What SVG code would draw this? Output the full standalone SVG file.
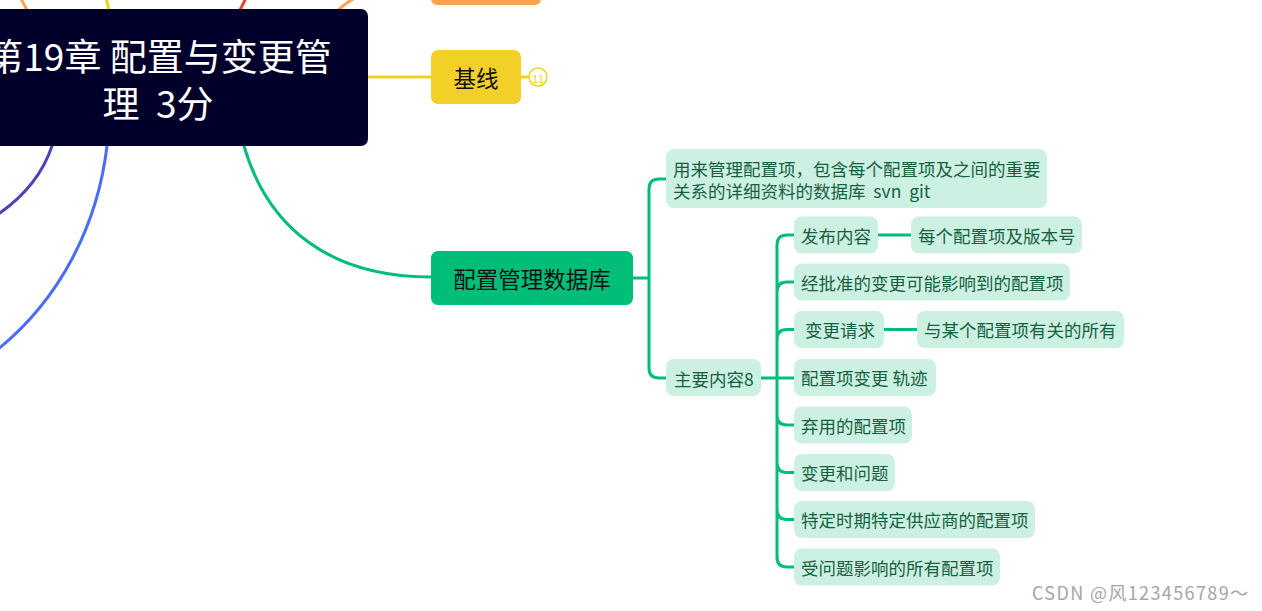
<svg xmlns="http://www.w3.org/2000/svg" width="1262" height="611" viewBox="0 0 1262 611">
<style>
text{font-family:"Noto Sans CJK SC","Noto Sans",sans-serif;dominant-baseline:central;white-space:pre}
.cw{fill:#ffffff;font-size:37px;text-anchor:middle}
.main{font-size:22.5px;fill:#111;text-anchor:middle}
.sub{fill:#ccf1e3}
.st{font-size:17.5px;fill:#17603f}
.ln{fill:none;stroke-width:3;stroke-linecap:round}
.g{stroke:#00bd78}
</style>
<rect width="1262" height="611" fill="#ffffff"/>
<g id="connectors">
<path class="ln" stroke="#f7a350" d="M28 12 Q24 4 18 -6"/>
<path class="ln" stroke="#f2d027" d="M109 12 Q108 4 105 -6"/>
<path class="ln" stroke="#e8413a" d="M239 12 Q243 4 248 -6"/>
<path class="ln" stroke="#f7a350" d="M336 12 Q346 2 362 -6"/>
<path class="ln" stroke="#f2d027" d="M368 77 H431"/>
<path class="ln" stroke="#f2d027" d="M521 77 H529"/>
<path class="ln" stroke="#4b43b8" d="M52 146 C42 176 20 200 -6 217"/>
<path class="ln" stroke="#4a6cf7" d="M107 146 C98 222 62 300 -8 354"/>
<path class="ln g" d="M244 146 C268 228 330 277 431 277"/>
<path class="ln g" d="M633 278 H649 M666 179 H659 Q649 179 649 189 V368 Q649 378 659 378 H666"/>
<path class="ln g" d="M761 378 H794 M878 235 H911 M884 329.5 H917"/>
<path class="ln g" d="M794 235 H787 Q777 235 777 245 V557 Q777 567 787 567 H794 M794 282 H787 Q777 282 777 292 M794 329.5 H787 Q777 329.5 777 339.5 M794 425 H787 Q777 425 777 415 M794 472.5 H787 Q777 472.5 777 462.5 M794 519.5 H787 Q777 519.5 777 509.5"/>
</g>
<g id="center">
<rect x="-20" y="9" width="388" height="137" rx="7" fill="#00002a"/>
<text class="cw"><tspan x="159" y="55">第19章 配置与变更管</tspan><tspan x="158" y="102">理  3分</tspan></text>
</g>
<g id="orange-node">
<rect x="431" y="-20" width="110" height="25" rx="6" fill="#f7a350"/>
</g>
<g id="baseline">
<rect x="431" y="50" width="90" height="54" rx="7" fill="#f2d027"/>
<text class="main" x="476" y="77">基线</text>
<circle cx="538" cy="77" r="9" fill="#ffffff" stroke="#f2d027" stroke-width="1.5"/>
<text x="538" y="77.5" font-size="11" fill="#f2d027" text-anchor="middle">11</text>
</g>
<g id="cmdb">
<rect x="431" y="251" width="202" height="54" rx="7" fill="#00bd78"/>
<text class="main" x="532" y="278">配置管理数据库</text>
</g>
<g id="desc">
<rect class="sub" x="666" y="149" width="381" height="59" rx="8"/>
<text class="st"><tspan x="673" y="167.5">用来管理配置项，包含每个配置项及之间的重要</tspan><tspan x="673" y="190">关系的详细资料的数据库  svn  git</tspan></text>
</g>
<g id="main8">
<rect class="sub" x="666" y="359" width="95" height="37" rx="8"/>
<text class="st" x="674" y="378">主要内容8</text>
</g>
<g id="c1">
<rect class="sub" x="794" y="216.5" width="84" height="37" rx="8"/>
<text class="st" x="801" y="235">发布内容</text>
</g>
<g id="c1a">
<rect class="sub" x="911" y="216.5" width="171" height="37" rx="8"/>
<text class="st" x="918" y="235">每个配置项及版本号</text>
</g>
<g id="c2">
<rect class="sub" x="794" y="263.5" width="276" height="37" rx="8"/>
<text class="st" x="801" y="282">经批准的变更可能影响到的配置项</text>
</g>
<g id="c3">
<rect class="sub" x="794" y="311" width="90" height="37" rx="8"/>
<text class="st" x="801" y="329.5"> 变更请求</text>
</g>
<g id="c3a">
<rect class="sub" x="917" y="311" width="207" height="37" rx="8"/>
<text class="st" x="924" y="329.5">与某个配置项有关的所有</text>
</g>
<g id="c4">
<rect class="sub" x="794" y="359" width="142" height="37" rx="8"/>
<text class="st" x="801" y="377.5">配置项变更 轨迹</text>
</g>
<g id="c5">
<rect class="sub" x="794" y="406.5" width="118" height="37" rx="8"/>
<text class="st" x="801" y="425">弃用的配置项</text>
</g>
<g id="c6">
<rect class="sub" x="794" y="454" width="101" height="37" rx="8"/>
<text class="st" x="801" y="472.5">变更和问题</text>
</g>
<g id="c7">
<rect class="sub" x="794" y="501" width="241" height="37" rx="8"/>
<text class="st" x="801" y="519.5">特定时期特定供应商的配置项</text>
</g>
<g id="c8">
<rect class="sub" x="794" y="548.5" width="206" height="37" rx="8"/>
<text class="st" x="801" y="567">受问题影响的所有配置项</text>
</g>
<text x="1032" y="592" font-size="18" fill="#a5a5a5" font-family="'Liberation Sans','Noto Sans CJK SC',sans-serif" textLength="216">CSDN @风123456789～</text>
</svg>
